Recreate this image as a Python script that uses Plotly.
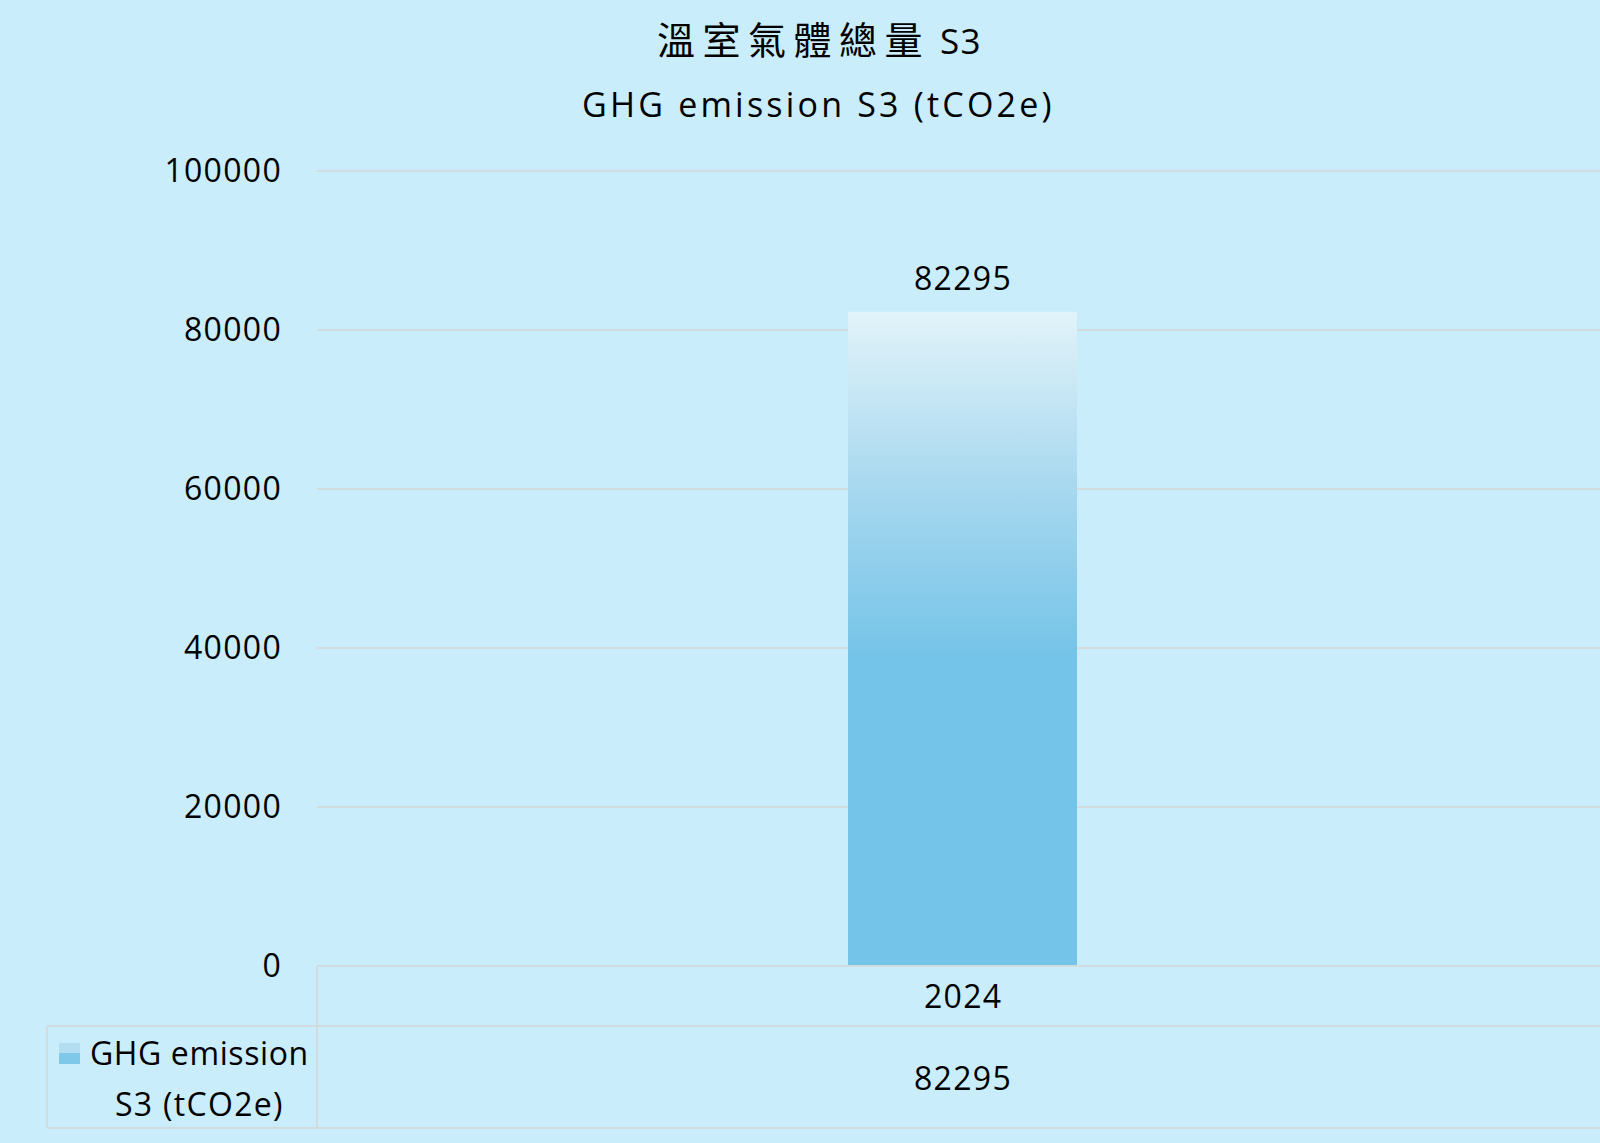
"""GHG emission S3 bar chart with a data table underneath."""

import plotly.graph_objects as go

# chart data
years = ["2024"]
emissions = [82295]
series_name = ["GHG emission", "S3 (tCO2e)"]
title_cjk = "溫室氣體總量"
title_scope = "S3"
title_en = "GHG emission S3 (tCO2e)"
y_ticks = [0, 20000, 40000, 60000, 80000, 100000]

W, H = 1600, 1143
ML, MT, MB = 317, 171, 177
PW, PH = W - ML, H - MT - MB

BG = "#CAEDFB"
GRID = "#D2DCDF"
BAR_DARK = "#74C3E8"
FONT = "Open Sans, Noto Sans CJK TC, sans-serif"

bar_w = 0.1774
x_pos = list(range(len(years)))


def px_x(p):
    # pixel -> paper x
    return (p - ML) / PW


def px_y(p):
    # pixel -> paper y
    return (H - MB - p) / PH


def spaced(txt, px, size=None):
    style = "letter-spacing:%spx" % px
    if size:
        style += ";font-size:%spx" % size
    return '<span style="%s">%s</span>' % (style, txt)


fig = go.Figure()

fig.add_trace(go.Bar(
    x=x_pos,
    y=emissions,
    width=bar_w,
    marker=dict(color=BAR_DARK, line=dict(width=0)),
    showlegend=False,
    hoverinfo="skip",
))

# gradient shading on top of each bar
for xi, v in zip(x_pos, emissions):
    fig.add_trace(go.Scatter(
        x=[xi - bar_w / 2, xi + bar_w / 2, xi + bar_w / 2, xi - bar_w / 2, xi - bar_w / 2],
        y=[0, 0, v, v, 0],
        mode="lines",
        line=dict(width=0),
        fill="toself",
        fillgradient=dict(
            type="vertical",
            start=0,
            stop=max(emissions),
            colorscale=[[0, BAR_DARK], [0.47, BAR_DARK], [0.74, "#A9D9EF"], [1, "#E2F3FA"]],
        ),
        showlegend=False,
        hoverinfo="skip",
    ))
    # value label above the bar
    fig.add_annotation(
        text=spaced(str(v), 1.3), x=xi, y=v, xref="x", yref="y",
        xanchor="center", yanchor="middle", yshift=34, showarrow=False,
        font=dict(size=32, color="black", family=FONT),
    )

# titles
fig.add_annotation(
    text=spaced(title_cjk, 7.5) + " " + spaced(title_scope, 1.5, 35),
    xref="paper", yref="paper", x=px_x(819), y=px_y(39),
    xanchor="center", yanchor="middle", showarrow=False,
    font=dict(size=38, color="black", family=FONT),
)
fig.add_annotation(
    text=spaced(title_en, 3.2), xref="paper", yref="paper", x=px_x(818), y=px_y(104),
    xanchor="center", yanchor="middle", showarrow=False,
    font=dict(size=34, color="black", family=FONT),
)

# data table below the axis
line_style = dict(color=GRID, width=2)
fig.add_shape(type="line", xref="paper", yref="paper", x0=0, x1=1, y0=1, y1=1, line=line_style)
fig.add_shape(type="line", xref="paper", yref="paper", x0=0, x1=1, y0=0, y1=0, line=line_style)
for py in [1026, 1128]:
    fig.add_shape(type="line", xref="paper", yref="paper",
                  x0=px_x(47), x1=1, y0=px_y(py), y1=px_y(py), line=line_style)
fig.add_shape(type="line", xref="paper", yref="paper",
              x0=0, x1=0, y0=0, y1=px_y(1128), line=line_style)
fig.add_shape(type="line", xref="paper", yref="paper",
              x0=px_x(47), x1=px_x(47), y0=px_y(1026), y1=px_y(1128), line=line_style)

for xi, yr, v in zip(x_pos, years, emissions):
    fig.add_annotation(text=spaced(yr, 1.3), xref="x", yref="paper", x=xi, y=px_y(995),
                       xanchor="center", yanchor="middle", showarrow=False,
                       font=dict(size=32, color="black", family=FONT))
    fig.add_annotation(text=spaced(str(v), 1.3), xref="x", yref="paper", x=xi, y=px_y(1077),
                       xanchor="center", yanchor="middle", showarrow=False,
                       font=dict(size=32, color="black", family=FONT))

# legend key in the table
fig.add_shape(type="rect", xref="paper", yref="paper",
              x0=px_x(59), x1=px_x(80), y0=px_y(1064), y1=px_y(1053),
              fillcolor="#80C8EA", line=dict(width=0))
fig.add_shape(type="rect", xref="paper", yref="paper",
              x0=px_x(59), x1=px_x(80), y0=px_y(1053), y1=px_y(1043),
              fillcolor="#B3DEF1", line=dict(width=0))
for txt, py, sp in zip(series_name, [1052, 1103], [0.6, 1.3]):
    fig.add_annotation(text=spaced(txt, sp), xref="paper", yref="paper", x=px_x(199), y=px_y(py),
                       xanchor="center", yanchor="middle", showarrow=False,
                       font=dict(size=32, color="black", family=FONT))

fig.update_layout(
    width=W,
    height=H,
    margin=dict(l=ML, r=0, t=MT, b=MB, pad=0),
    paper_bgcolor=BG,
    plot_bgcolor=BG,
    font=dict(family=FONT, size=32, color="black"),
    xaxis=dict(
        range=[-0.5, 0.4938],
        showticklabels=False,
        showgrid=False,
        zeroline=False,
        showline=False,
        fixedrange=True,
    ),
    yaxis=dict(
        range=[0, 100000],
        tickvals=y_ticks,
        ticktext=[spaced(str(t), 1.3) for t in y_ticks],
        showgrid=True,
        gridcolor=GRID,
        gridwidth=2,
        zeroline=False,
        showline=False,
        ticklabelstandoff=34,
        tickfont=dict(size=32, color="black", family=FONT),
    ),
    bargap=0,
)

fig.write_html("out.html", config={"displayModeBar": False},
               post_script="document.body.style.margin='0';")
